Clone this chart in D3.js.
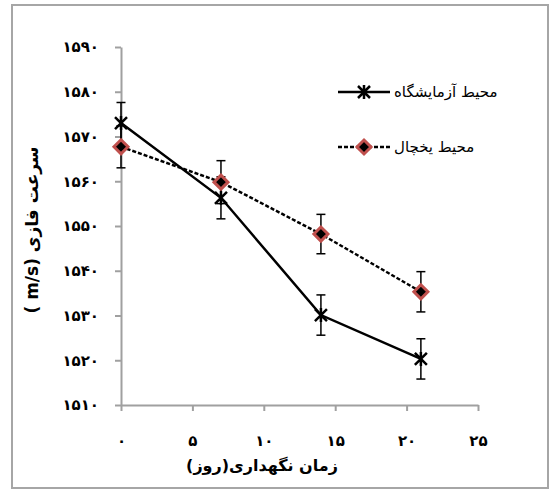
<!DOCTYPE html>
<html>
<head>
<meta charset="utf-8">
<script src="https://cdn.jsdelivr.net/npm/d3@7/dist/d3.min.js"></script>
<style>
	body { margin: 0; background: #fff; }
	text { font-family: "DejaVu Sans", sans-serif; fill: #000; }
</style>
</head>
<body>
<script>
// data
var days = [0, 7, 14, 21];
var labSpeed = [1573.0, 1556.3, 1530.1, 1520.3];
var fridgeSpeed = [1567.7, 1559.8, 1548.2, 1535.3];
var labErr = [4.6, 4.7, 4.5, 4.5];
var fridgeErr = [4.7, 4.8, 4.4, 4.5];
var yTicks = [1510, 1520, 1530, 1540, 1550, 1560, 1570, 1580, 1590];
var xTicks = [0, 5, 10, 15, 20, 25];
var seriesNames = ["محیط آزمایشگاه", "محیط یخچال"];
var xTitle = "زمان نگهداری(روز)";
var yTitle = "( m/s) سرعت فازی";

var width = 555, height = 495;
var margin = {top: 47, right: 77, bottom: 90, left: 121};

// persian digits for the tick labels
function fa(n) {
	return String(n).replace(/\d/g, function(d) { return "۰۱۲۳۴۵۶۷۸۹"[d]; });
}

var svg = d3.select("body").append("svg")
	.attr("width", width)
	.attr("height", height);

// outer frame
svg.append("rect")
	.attr("x", 12).attr("y", 5)
	.attr("width", 536).attr("height", 483)
	.attr("fill", "#fff")
	.attr("stroke", "#a6a6a6")
	.attr("stroke-width", 2);

var g = svg.append("g");

var xScale = d3.scaleLinear().domain([0, 25]).range([margin.left, width - margin.right]);
var yScale = d3.scaleLinear().domain([1510, 1590]).range([height - margin.bottom, margin.top]);

var xAxis = d3.axisBottom(xScale).tickValues(xTicks).tickFormat(fa)
	.tickSize(6).tickSizeOuter(0).tickPadding(24);
var yAxis = d3.axisLeft(yScale).tickValues(yTicks).tickFormat(fa)
	.tickSize(6).tickSizeOuter(0).tickPadding(16);

var gx = g.append("g")
	.attr("transform", "translate(0," + (height - margin.bottom) + ")")
	.call(xAxis);
var gy = g.append("g")
	.attr("transform", "translate(" + margin.left + ",0)")
	.call(yAxis);

[gx, gy].forEach(function(a) {
	a.selectAll("path, line").attr("stroke", "#a0a0a0").attr("stroke-width", 2);
	a.selectAll("text").style("font-size", "15px").style("font-weight", "bold");
});

// axis titles
svg.append("text")
	.attr("x", 262).attr("y", 471)
	.attr("text-anchor", "middle")
	.style("font-size", "16px")
	.style("font-weight", "bold")
	.text(xTitle);

svg.append("text")
	.attr("transform", "translate(38," + 230 + ") rotate(-90)")
	.attr("text-anchor", "middle")
	.style("font-size", "17px")
	.style("font-weight", "bold")
	.text(yTitle);

// markers
function star(sel) {
	sel.append("path")
		.attr("d", "M-6,-6L6,6M-6,6L6,-6M0,-7L0,7")
		.attr("stroke", "#000")
		.attr("stroke-width", 2.5)
		.attr("fill", "none");
}
function diamond(sel) {
	sel.append("path")
		.attr("d", "M0,-7L7,0L0,7L-7,0Z")
		.attr("fill", "#000")
		.attr("stroke", "#c0504d")
		.attr("stroke-width", 3);
}

var series = [
	{name: seriesNames[0], values: labSpeed, err: labErr, dash: null, marker: star},
	{name: seriesNames[1], values: fridgeSpeed, err: fridgeErr, dash: "4,2", marker: diamond}
];

var line = d3.line()
	.x(function(d) { return xScale(d.x); })
	.y(function(d) { return yScale(d.y); });

series.forEach(function(s) {
	var pts = days.map(function(d, i) { return {x: d, y: s.values[i], e: s.err[i]}; });

	// error bars
	var eb = g.append("g").selectAll("g").data(pts).enter().append("g")
		.attr("stroke", "#000").attr("stroke-width", 1.5);
	eb.append("line")
		.attr("x1", function(d) { return xScale(d.x); })
		.attr("x2", function(d) { return xScale(d.x); })
		.attr("y1", function(d) { return yScale(d.y + d.e); })
		.attr("y2", function(d) { return yScale(d.y - d.e); });
	[1, -1].forEach(function(sign) {
		eb.append("line")
			.attr("x1", function(d) { return xScale(d.x) - 4.5; })
			.attr("x2", function(d) { return xScale(d.x) + 4.5; })
			.attr("y1", function(d) { return yScale(d.y + sign * d.e); })
			.attr("y2", function(d) { return yScale(d.y + sign * d.e); });
	});

	g.append("path")
		.datum(pts)
		.attr("d", line)
		.attr("fill", "none")
		.attr("stroke", "#000")
		.attr("stroke-width", 2.5)
		.attr("stroke-dasharray", s.dash);

	g.append("g").selectAll("g").data(pts).enter().append("g")
		.attr("transform", function(d) { return "translate(" + xScale(d.x) + "," + yScale(d.y) + ")"; })
		.call(s.marker);
});

// legend
var legend = svg.append("g").selectAll("g").data(series).enter().append("g")
	.attr("transform", function(d, i) { return "translate(338," + (92 + i * 55) + ")"; });

legend.append("line")
	.attr("x1", 0).attr("x2", 52)
	.attr("stroke", "#000")
	.attr("stroke-width", 2.5)
	.attr("stroke-dasharray", function(d) { return d.dash; });

legend.append("g")
	.attr("transform", "translate(26,0)")
	.each(function(d) { d.marker(d3.select(this)); });

legend.append("text")
	.attr("x", 56).attr("dy", "0.35em")
	.style("font-size", "15px")
	.text(function(d) { return d.name; });
</script>
</body>
</html>
